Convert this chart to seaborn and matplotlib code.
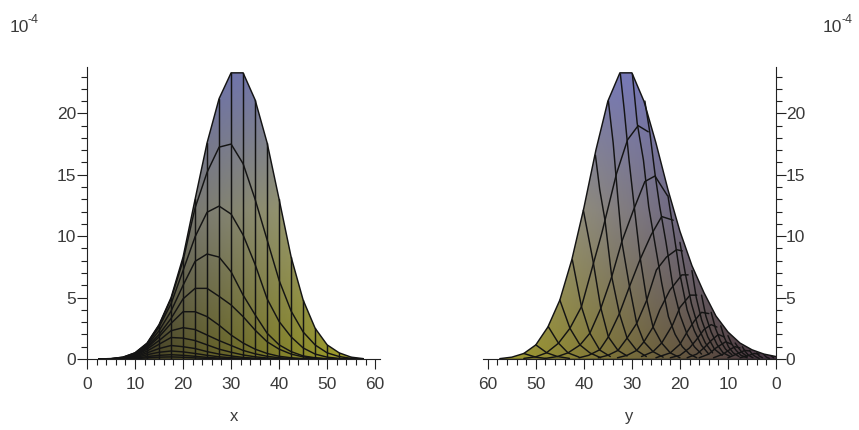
import numpy as np
import pandas as pd
import seaborn as sns
from matplotlib import pyplot as plt
from matplotlib.patches import Polygon
from matplotlib.ticker import MultipleLocator

# left view, height against x
left_x = [2.5, 5, 7.5, 10, 12.5, 15, 17.5, 20, 22.5, 25, 27.5, 30, 32.5, 35, 37.5, 40, 42.5, 45, 47.5, 50, 52.5, 55, 57.5]
left_edge = [.01, .03, .15, .5, 1.3, 2.8, 5.0, 8.3, 13, 17.6, 21.2, 23.3, 23.3, 21.1, 17.6, 13, 8.3, 4.8, 2.5, 1.15, .5, .15, .03]
left_curves = [
    [.01, .03, .15, .5, 1.25, 2.75, 4.9, 8.0, 12.3, 15.2, 17.25, 17.5, 15.9, 13.0, 9.7, 6.4, 3.9, 2.2, 1.14, .5, .2, .05, 0],
    [0, .02, .12, .45, 1.2, 2.6, 4.5, 7.2, 9.95, 11.95, 12.45, 11.8, 10.1, 7.7, 4.9, 3.05, 1.8, .9, .4, .15, .05, 0, 0],
    [0, 0, .1, .4, 1.1, 2.3, 3.9, 6.0, 7.95, 8.55, 8.3, 7.1, 5.2, 3.6, 2.1, 1.15, .6, .25, .1, .03, 0, 0, 0],
    [0, 0, .08, .35, 1.0, 2.0, 3.3, 4.9, 5.75, 5.75, 5.1, 4.4, 3.45, 2.35, 1.4, .8, .4, .17, .06, 0, 0, 0, 0],
    [0, 0, 0, .3, .9, 1.8, 2.9, 3.85, 3.85, 3.45, 2.75, 1.95, 1.3, .8, .45, .22, .1, .03, 0, 0, 0, 0, 0],
    [0, 0, 0, .25, .8, 1.5, 2.3, 2.55, 2.4, 1.95, 1.5, 1.1, .7, .42, .22, .1, .04, 0, 0, 0, 0, 0, 0],
    [0, 0, 0, .2, .65, 1.2, 1.75, 1.7, 1.5, 1.15, .8, .55, .33, .18, .08, .03, 0, 0, 0, 0, 0, 0, 0],
    [0, 0, 0, .15, .5, .85, 1.1, 1.0, .85, .6, .4, .25, .13, .06, .02, 0, 0, 0, 0, 0, 0, 0, 0],
    [0, 0, 0, .1, .35, .55, .65, .58, .45, .3, .18, .1, .05, .02, 0, 0, 0, 0, 0, 0, 0, 0, 0],
    [0, 0, 0, .05, .2, .3, .35, .3, .22, .13, .07, .03, 0, 0, 0, 0, 0, 0, 0, 0, 0, 0, 0],
    [0, 0, 0, .02, .1, .15, .17, .14, .09, .05, .02, 0, 0, 0, 0, 0, 0, 0, 0, 0, 0, 0, 0],
]

# right view, height against y
right_y = [0, 2.5, 5, 7.5, 10, 12.5, 15, 17.5, 20, 22.5, 25, 27.5, 30, 32.5, 35, 37.5, 40, 42.5, 45, 47.5, 50, 52.5, 55, 57.5]
right_edge = [.2, .4, .75, 1.3, 2.2, 3.5, 5.4, 7.6, 10.4, 13.8, 17.6, 21, 23.3, 23.3, 21, 17, 12.3, 8.1, 4.8, 2.6, 1.15, .45, .15, .03]
# lines running down to the right, (y, height)
right_falling = [
    [(32.4, 23.2), (31.6, 20.3), (30.6, 16.2), (29.6, 12.7), (28.3, 8.3), (26.9, 4.8), (25.6, 2.6), (23.8, 1.3), (22, .5), (20, .1)],
    [(29.9, 23.2), (28.9, 19.2), (27.6, 16.2), (26.5, 12.4), (25.2, 9.4), (23.8, 6.2), (22.4, 3.45), (21, 2), (19.5, 1), (18, .4), (16.5, .1)],
    [(27.3, 21), (26.25, 18.4), (25.2, 15.1), (24.2, 12.4), (22.9, 9.5), (21.5, 6), (20, 3.6), (18.5, 2), (17, 1), (15.5, .4)],
    [(34.9, 21), (33.9, 17.6), (32.9, 13), (32.1, 9.56), (30.5, 5.9), (29, 2.9), (27.5, 1.4), (25.6, .6), (23.5, .15)],
    [(37.6, 16.6), (36.7, 13.8), (35.6, 11.3), (34.2, 6.7), (32.6, 3.7), (31, 1.7), (29, .7), (27, .2)],
    [(40.1, 12.1), (38.1, 8.0), (36.5, 4.2), (34.9, 1.8), (32.9, .7), (31, .25)],
    [(42.4, 8.07), (40.5, 4.26), (38.75, 2.1), (36.7, .73), (34.5, .2)],
    [(45, 4.8), (42.9, 2.5), (40.8, 1.14), (38.75, .5), (36.5, .1)],
    [(47.4, 2.63), (45.3, 1.3), (43.3, .5), (41, .15)],
    [(50, 1.15), (47.7, .5), (45.5, .2), (43, .05)],
    [(52.5, .45), (50, .15), (48, .05)],
    [(22.5, 13.3), (21.3, 10.3), (20, 6.9), (18.5, 4), (17, 2.3), (15.5, 1.1), (14, .4)],
    [(20, 9.5), (18.9, 7), (17.6, 4.5), (16.2, 2.6), (14.7, 1.3), (13.2, .5)],
    [(17.5, 7.2), (16.6, 5), (15.5, 3.2), (14.2, 1.8), (12.8, .8), (11.2, .3)],
    [(15.5, 5.2), (14.6, 3.5), (13.5, 2.2), (12.3, 1.2), (11, .5), (9.5, .2)],
    [(13.5, 3.8), (12.6, 2.5), (11.6, 1.5), (10.5, .8), (9.2, .35)],
    [(11.5, 2.7), (10.8, 1.8), (9.9, 1.0), (8.9, .5), (7.7, .2)],
    [(10, 1.9), (9.2, 1.2), (8.3, .7), (7.3, .3), (6, .1)],
    [(8.5, 1.3), (7.8, .9), (7, .5), (6, .2)],
    [(7, 1), (6.4, .6), (5.7, .3), (4.8, .1)],
    [(5.5, .7), (5, .4), (4.3, .2), (3.5, .05)],
    [(4, .5), (3.5, .25), (2.8, .1)],
    [(2.5, .35), (2, .15), (1.4, .05)],
    [(1, .25), (.5, .1)],
]
# lines rising from the left to a crest near the right edge, (y, height)
right_rising = [
    [(52.5, .05), (50, .18), (47.8, .5), (45.3, 1.28), (42.9, 2.5), (40.5, 4.26), (38, 7.8), (36.3, 10.2), (34.9, 12.4), (33.2, 15.1), (30.9, 17.85), (28.7, 19), (26.6, 18.5)],
    [(48, .05), (45.5, .2), (43.3, .5), (40.8, 1.14), (38.75, 2.1), (36.5, 4.1), (34.2, 6.7), (32.1, 9.56), (29.7, 12.1), (27.3, 14.45), (25.2, 14.9), (22.6, 13.3)],
    [(41, .1), (39, .3), (36.7, .75), (34.9, 1.8), (32.6, 3.7), (30.5, 5.9), (28.3, 8.1), (26, 10.1), (23.8, 11.6), (21.4, 11.3)],
    [(37, .1), (35, .3), (32.9, .7), (31, 1.7), (29, 2.9), (26.9, 4.8), (24.9, 7.25), (22.8, 8.3), (20.7, 8.9), (19.5, 8.8)],
    [(33, .1), (31, .3), (29, .7), (27.5, 1.4), (25.6, 2.6), (24.2, 4), (22.1, 5.6), (19.6, 6.85), (18.3, 6.85)],
    [(28, .2), (25.6, .6), (23.8, 1.3), (21.5, 2.8), (20, 4.2), (17.9, 5.2), (16.5, 5.2)],
    [(25, .1), (22, .5), (20, 1.2), (18.5, 2.2), (17, 3.1), (15.5, 3.8), (14, 3.7)],
    [(22, .1), (20, .3), (18, .9), (16.5, 1.6), (15, 2.4), (13.5, 2.8), (12.3, 2.6)],
    [(18.5, .1), (16.5, .4), (15, .9), (13.5, 1.5), (12, 2.0), (10.8, 1.8)],
    [(16, .1), (14, .4), (12.5, .9), (10.5, 1.4), (9.2, 1.2)],
    [(13, .1), (11, .4), (9.5, .8), (8.5, 1.0), (7.5, .9)],
    [(10, .1), (8.5, .35), (6.5, .7), (5.5, .65)],
    [(7.5, .1), (6, .25), (4.5, .45), (3.5, .4)],
]

x_ticks = [0, 10, 20, 30, 40, 50, 60]
z_ticks = [0, 5, 10, 15, 20]
exp_base = '10'
exp_power = '-4'

# shading corners, rows run top to bottom, columns left to right
left_shade = [[(105, 110, 180), (115, 120, 170)], [(90, 90, 120), (175, 175, 105)], [(40, 35, 35), (175, 175, 45)]]
right_shade = [[(120, 125, 180), (115, 115, 195)], [(175, 175, 115), (80, 70, 140)], [(168, 165, 46), (70, 51, 70)]]


def long_table(lines):
    rows = []
    for i, line in enumerate(lines):
        for a, b in line:
            rows.append((i, a, b))
    return pd.DataFrame(rows, columns=['curve', 'pos', 'height'])


def draw_panel(ax, edge_pos, edge_height, lines, shade, xlim):
    polygon = Polygon(list(zip(edge_pos, edge_height)) + [(edge_pos[-1], 0), (edge_pos[0], 0)],
                      closed=True, transform=ax.transData, facecolor='none', edgecolor='none')
    ax.add_patch(polygon)
    # half a cell past the axes so the corner colours land on the corners
    half = (xlim[1] - xlim[0]) / 2
    img = ax.imshow(np.array(shade, dtype=np.uint8), extent=(xlim[0] - half, xlim[1] + half, -6, 30),
                    aspect='auto', interpolation='bilinear', zorder=1)
    img.set_clip_path(polygon)
    sns.lineplot(data=long_table(lines), x='pos', y='height', units='curve', estimator=None, sort=False,
                 color='#141414', linewidth=1.05, legend=False, ax=ax, zorder=3)
    ax.set_xlim(*xlim)
    ax.set_ylim(0, 23.8)
    ax.set_xticks(x_ticks)
    ax.set_yticks(z_ticks)
    ax.xaxis.set_minor_locator(MultipleLocator(2))
    ax.yaxis.set_minor_locator(MultipleLocator(1))
    ax.tick_params(which='major', length=7, width=.8, color='#222222', labelcolor='#3a3a3a', labelsize=12.5)
    ax.tick_params(which='minor', length=4, width=.8, color='#222222')
    ax.tick_params(axis='x', pad=6)
    ax.tick_params(axis='y', pad=1)
    ax.patch.set_alpha(0)
    for spine in ax.spines.values():
        spine.set_linewidth(.8)
        spine.set_color('#222222')


sns.set_style('ticks')
plt.rcParams['font.family'] = ['Liberation Sans', 'DejaVu Sans']

W, H = 859, 430
fig = plt.figure(figsize=(W / 100, H / 100), dpi=100)
top = 66.7
bottom = 359
ax1 = fig.add_axes([87 / W, 1 - bottom / H, 293 / W, (bottom - top) / H])
ax2 = fig.add_axes([483 / W, 1 - bottom / H, 293 / W, (bottom - top) / H])

lines1 = [list(zip(left_x, left_edge))]
lines1 += [list(zip(left_x, c)) for c in left_curves]
lines1 += [[(a, 0), (a, b)] for a, b in zip(left_x, left_edge)]
lines1 += [[(left_x[0], 0), (left_x[-1], 0)]]
draw_panel(ax1, left_x, left_edge, lines1, left_shade, (0, 61))
sns.despine(ax=ax1)

lines2 = [list(zip(right_y, right_edge))] + right_falling + right_rising
lines2 += [[(right_y[0], 0), (right_y[-1], 0)]]
draw_panel(ax2, right_y, right_edge, lines2, right_shade, (61, 0))
sns.despine(ax=ax2, left=True, right=False)
ax2.yaxis.tick_right()
ax2.tick_params(axis='y', pad=0)

ax1.set_xlabel('x', fontsize=12, color='#3a3a3a', labelpad=12)
ax1.set_ylabel('')
ax2.set_xlabel('y', fontsize=12, color='#3a3a3a', labelpad=12)
ax2.set_ylabel('')

for left in (10, 823):
    fig.text(left / W, 1 - 32 / H, exp_base, fontsize=12.5, color='#3a3a3a', ha='left', va='baseline')
    fig.text((left + 18) / W, 1 - 23 / H, exp_power, fontsize=9, color='#3a3a3a', ha='left', va='baseline')

fig.savefig('out.png', dpi=100)
